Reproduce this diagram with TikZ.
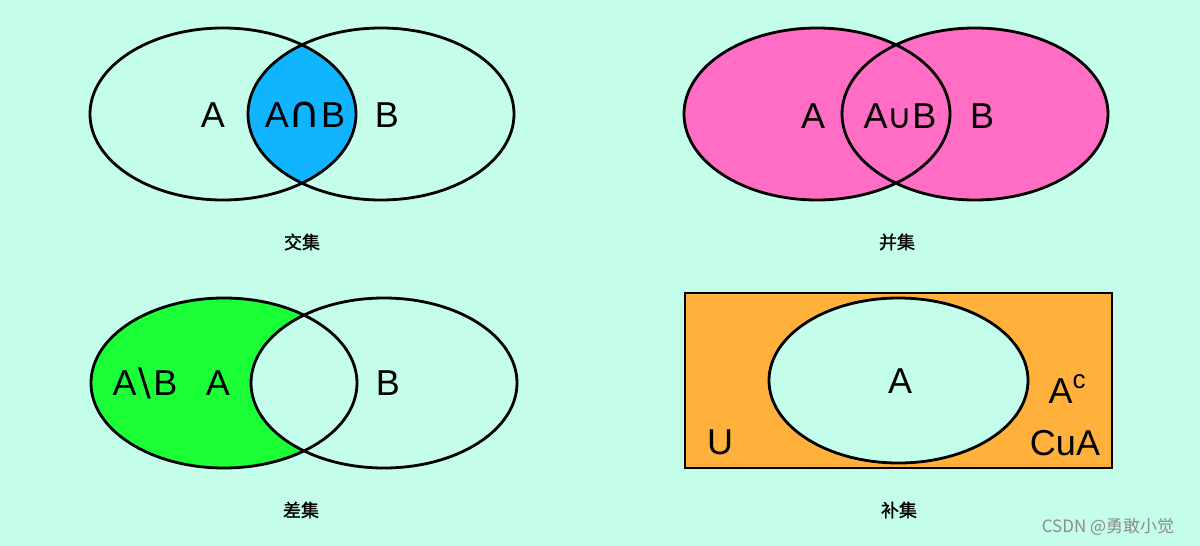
\documentclass[tikz,border=0pt]{standalone}
\usepackage{fontspec}
\setmainfont{Liberation Sans}
\newfontfamily\symfont{DejaVu Sans}
\newfontfamily\cjk{Noto Sans CJK SC}[FakeBold=1.2]
\newfontfamily\cjkplain{Noto Sans CJK SC}
\definecolor{bgmint}{RGB}{196,253,234}
\definecolor{interblue}{RGB}{17,181,255}
\definecolor{unionpink}{RGB}{255,110,196}
\definecolor{diffgreen}{RGB}{27,255,54}
\definecolor{comporange}{RGB}{255,177,60}
\tikzset{
  outline/.style={draw=black, line width=2.8pt},
  setlabel/.style={inner sep=0pt, font=\fontsize{36}{40}\selectfont},
  caption/.style={inner sep=0pt, font=\cjk\fontsize{18}{20}\selectfont},
}
\begin{document}
\begin{tikzpicture}[x=1pt,y=-1pt]
\useasboundingbox (0,0) rectangle (1200,546);
\fill[bgmint] (0,0) rectangle (1200,546);

% ---------- intersection ----------
\begin{scope}
  \clip (223,114) ellipse [x radius=133pt, y radius=86pt];
  \fill[interblue] (381,114) ellipse [x radius=133pt, y radius=86pt];
\end{scope}
\draw[outline] (223,114) ellipse [x radius=133pt, y radius=86pt];
\draw[outline] (381,114) ellipse [x radius=133pt, y radius=86pt];
\node[setlabel] (ia) at (213,115) {A};
\node[setlabel] (iab) at (305,115) {A{\symfont\fontsize{44}{48}\selectfont ∩}B};
\node[setlabel] (ib) at (387,115) {B};
\node[caption] (c1) at (302,242) {交集};

% ---------- union ----------
\fill[unionpink] (817,114) ellipse [x radius=133pt, y radius=86pt];
\fill[unionpink] (975,114) ellipse [x radius=133pt, y radius=86pt];
\draw[outline] (817,114) ellipse [x radius=133pt, y radius=86pt];
\draw[outline] (975,114) ellipse [x radius=133pt, y radius=86pt];
\node[setlabel] (ua) at (813,116) {A};
\node[setlabel] (uab) at (900,116) {A{\symfont\fontsize{34}{38}\selectfont ∪}B};
\node[setlabel] (ub) at (982,116) {B};
\node[caption] (c2) at (897,242) {并集};

% ---------- difference ----------
\fill[diffgreen] (224,383) ellipse [x radius=133pt, y radius=85pt];
\fill[bgmint] (384,383) ellipse [x radius=133pt, y radius=85pt];
\draw[outline] (224,383) ellipse [x radius=133pt, y radius=85pt];
\draw[outline] (384,383) ellipse [x radius=133pt, y radius=85pt];
\node[setlabel] (dab) at (145,383) {A\kern2pt{\symfont\fontsize{38}{40}\selectfont\textbackslash}\kern2pt B};
\node[setlabel] (da) at (218,383) {A};
\node[setlabel] (db) at (388,383) {B};
\node[caption] (c3) at (301,510) {差集};

% ---------- complement ----------
\fill[comporange] (685,293) rectangle (1112,468);
\draw[outline] (685,293) rectangle (1112,468);
\fill[bgmint] (898.5,380.5) ellipse [x radius=129.5pt, y radius=82.5pt];
\draw[outline] (898.5,380.5) ellipse [x radius=129.5pt, y radius=82.5pt];
\node[setlabel] (ca) at (900,381) {A};
\node[setlabel] (cac) at (1067,389) {A\raisebox{0.4em}{\fontsize{26}{28}\selectfont c}};
\node[setlabel] (cua) at (1065,443) {CuA};
\node[setlabel] (cu) at (720,442) {U};
\node[caption] (c4) at (899,510) {补集};

% ---------- watermark ----------
\node[inner sep=0pt, text=black!45, font=\cjkplain\fontsize{17}{19}\selectfont] (wm) at (1108,527) {CSDN @勇敢小觉};
\end{tikzpicture}
\end{document}
